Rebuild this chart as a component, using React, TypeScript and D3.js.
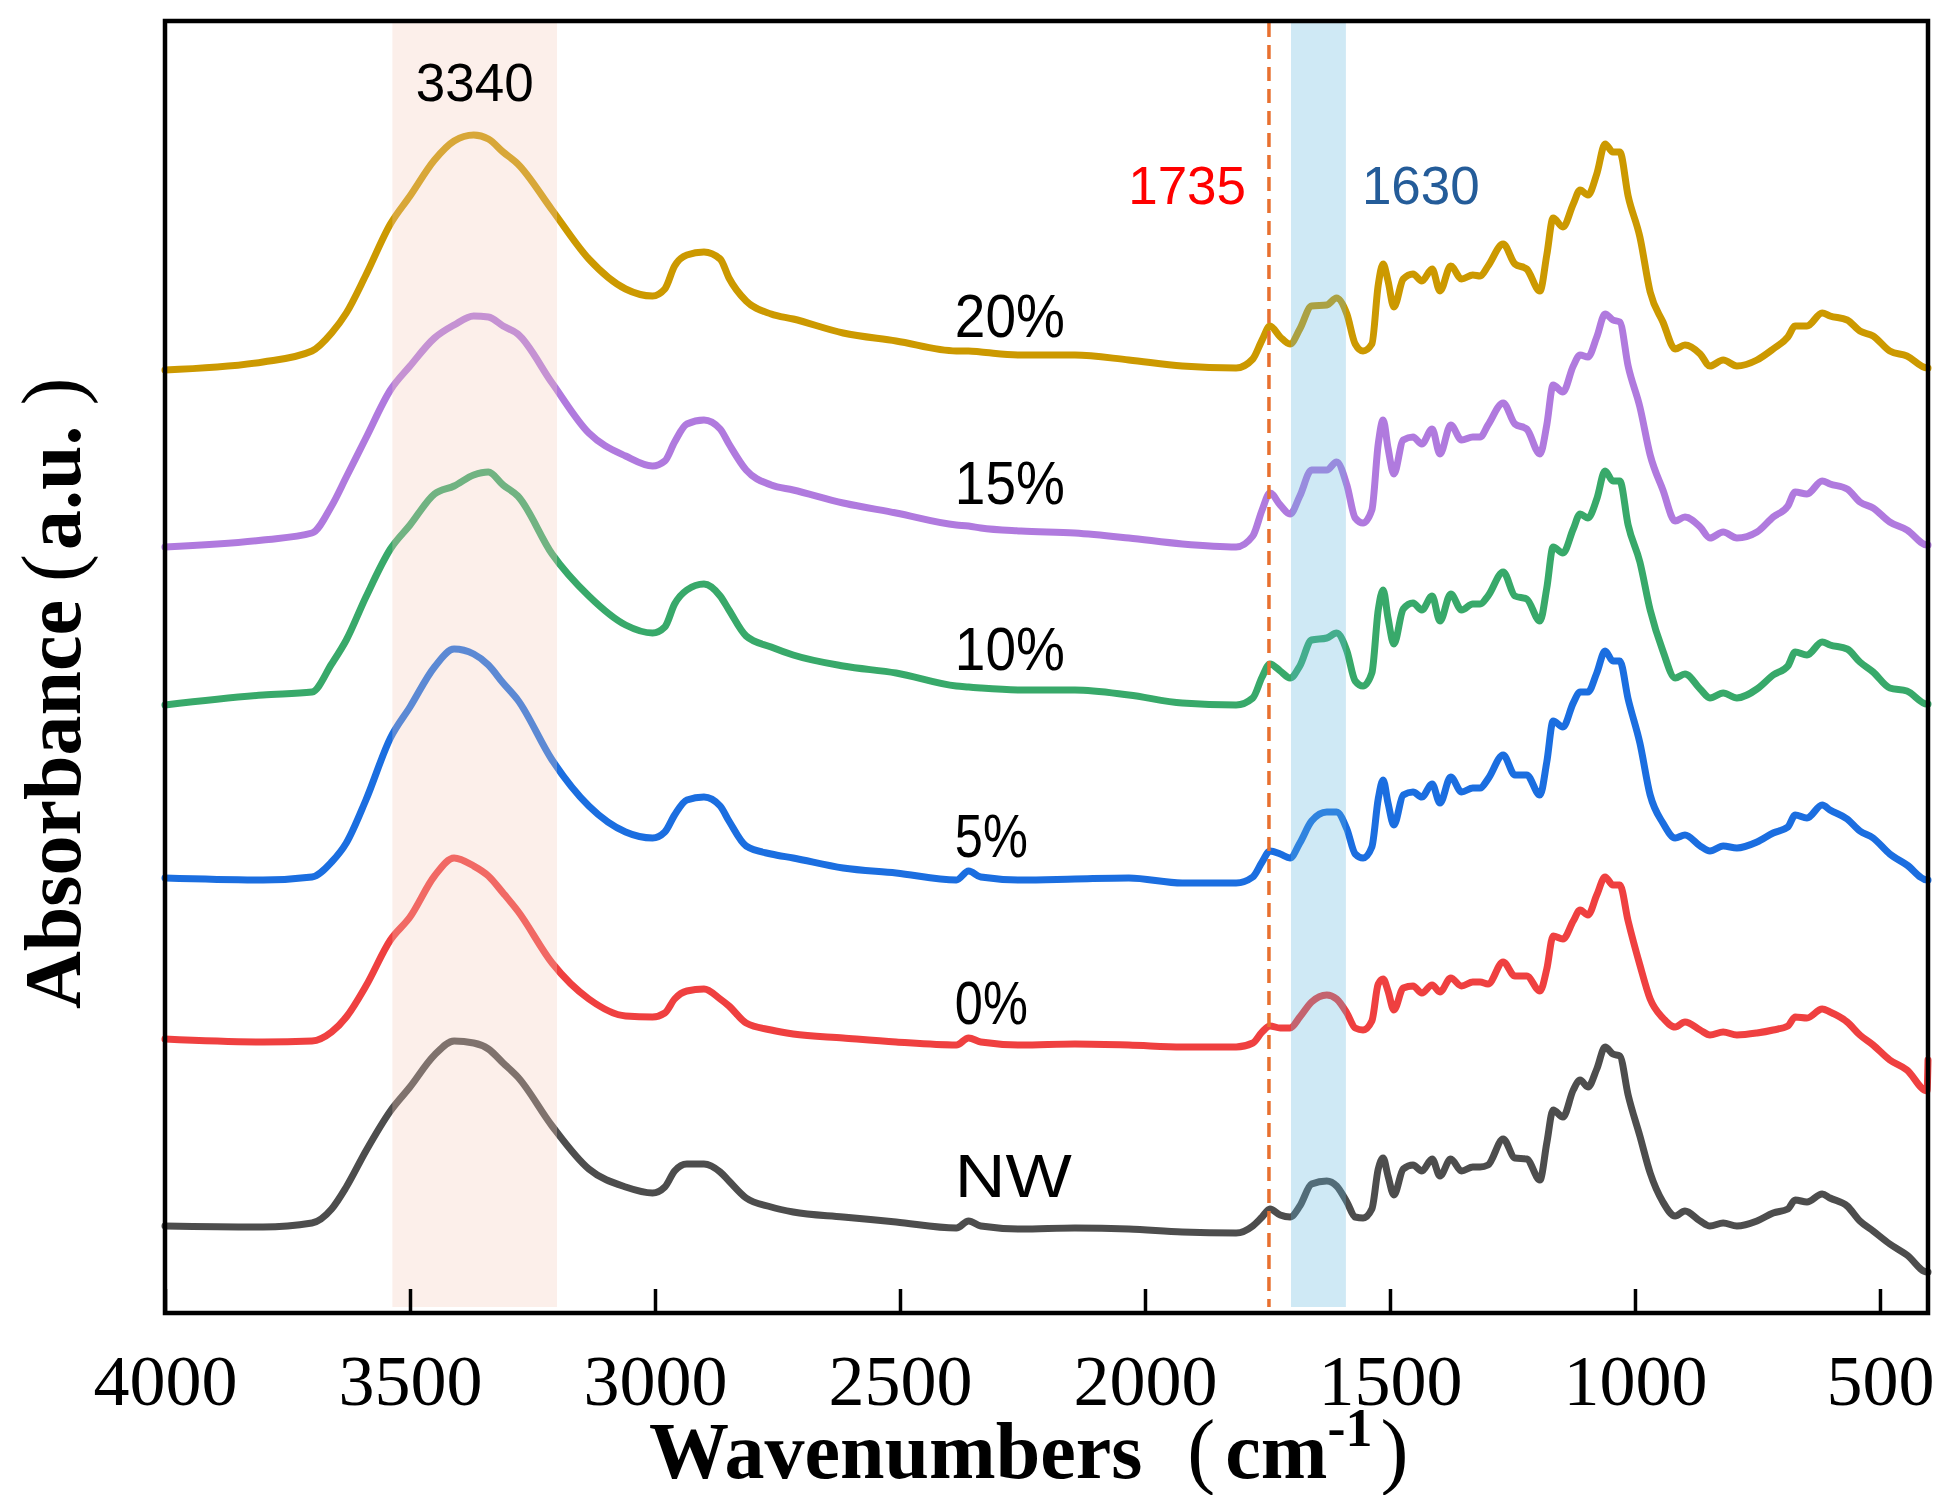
import { useEffect, useRef } from 'react';
import * as d3 from 'd3';

// wavenumber grid (cm-1), shared by all spectra
const wavenumbers = [
  4000, 3800, 3700, 3660, 3630, 3590, 3540, 3500, 3450, 3410, 3370, 3340, 3310, 3280, 3210, 3135, 3060, 3005, 2980, 2960,
  2935, 2900, 2867, 2849, 2814, 2763, 2718, 2616, 2508, 2385, 2360, 2335, 2253, 2143, 2033, 1924, 1814, 1780, 1761, 1745,
  1724, 1704, 1684, 1660, 1629, 1609, 1588, 1571, 1555, 1537, 1524, 1514, 1504, 1492, 1473, 1453, 1435, 1414, 1398, 1376,
  1354, 1331, 1316, 1300, 1269, 1245, 1221, 1194, 1180, 1167, 1147, 1126, 1112, 1096, 1078, 1061, 1045, 1031, 1014, 990,
  969, 943, 918, 898, 867, 847, 820, 792, 751, 718, 688, 673, 649, 618, 602, 567, 541, 514, 480, 445, 404, 402,
];

// absorbance (a.u., offset stacked)
const nwValues = [
  87, 86, 90, 104, 126, 162, 202, 226, 258, 272, 270, 264, 250, 236, 187, 144, 126, 120, 126, 142,
  149, 149, 141, 132, 115, 106, 101, 96, 91, 85, 92, 87, 84, 85, 84, 81, 80, 87, 96, 104,
  98, 96, 107, 129, 132, 127, 111, 96, 95, 104, 144, 155, 137, 118, 144, 148, 142, 154, 137, 154,
  142, 146, 146, 148, 174, 155, 154, 133, 170, 203, 196, 223, 233, 226, 244, 266, 259, 257, 218, 177,
  140, 111, 97, 102, 92, 87, 90, 87, 92, 100, 104, 113, 111, 119, 115, 107, 92, 82, 69, 58, 41, 41,
];
const p0Values = [
  274, 271, 272, 281, 296, 327, 373, 396, 437, 455, 447, 437, 420, 402, 350, 314, 297, 296, 300, 314,
  322, 324, 314, 307, 290, 283, 279, 275, 271, 268, 275, 271, 268, 269, 268, 266, 266, 270, 281, 287,
  285, 285, 296, 311, 318, 314, 300, 285, 283, 292, 329, 334, 322, 303, 325, 327, 320, 328, 321, 335,
  327, 331, 331, 329, 351, 337, 337, 322, 344, 377, 374, 392, 403, 398, 418, 436, 428, 428, 392, 348,
  314, 295, 286, 291, 283, 278, 281, 278, 280, 283, 287, 296, 295, 304, 301, 291, 278, 268, 253, 243, 222, 253,
];
const p5Values = [
  435, 433, 436, 451, 470, 513, 575, 606, 646, 664, 659, 648, 630, 613, 553, 507, 481, 475, 481, 498,
  513, 516, 507, 492, 467, 459, 455, 445, 440, 433, 442, 436, 433, 434, 435, 430, 430, 436, 451, 462,
  459, 455, 470, 492, 501, 501, 484, 459, 455, 466, 514, 533, 510, 488, 518, 521, 516, 529, 510, 536,
  521, 525, 525, 534, 558, 538, 538, 518, 551, 592, 586, 610, 621, 621, 640, 662, 652, 652, 614, 570,
  518, 490, 475, 478, 467, 462, 467, 465, 471, 480, 486, 498, 495, 508, 503, 494, 482, 475, 459, 448, 433, 433,
];
const p10Values = [
  608, 618, 621, 649, 673, 716, 764, 788, 819, 827, 838, 841, 828, 817, 759, 717, 688, 680, 686, 709,
  723, 729, 717, 703, 677, 666, 658, 647, 640, 627, 626, 625, 623, 623, 618, 610, 608, 615, 636, 649,
  642, 635, 647, 673, 675, 680, 662, 632, 627, 640, 703, 723, 695, 669, 704, 710, 703, 717, 692, 719,
  703, 709, 709, 717, 741, 717, 714, 692, 725, 766, 760, 784, 799, 795, 814, 842, 832, 832, 788, 751,
  703, 662, 635, 639, 624, 615, 620, 615, 624, 638, 647, 661, 658, 671, 668, 664, 651, 641, 625, 622, 609, 609,
];
const p15Values = [
  766, 773, 780, 807, 836, 875, 923, 947, 975, 988, 997, 996, 987, 979, 930, 880, 857, 847, 852, 871,
  889, 893, 884, 869, 843, 828, 823, 810, 800, 788, 787, 785, 782, 780, 775, 769, 766, 777, 803, 820,
  808, 799, 817, 843, 843, 851, 828, 795, 790, 803, 869, 893, 865, 839, 873, 876, 869, 884, 859, 888,
  873, 876, 876, 888, 910, 889, 884, 859, 888, 928, 921, 947, 958, 956, 976, 999, 993, 991, 947, 906,
  858, 823, 792, 796, 786, 775, 781, 775, 781, 796, 807, 821, 819, 832, 829, 824, 811, 805, 791, 783, 768, 768,
];
const p20Values = [
  943, 951, 962, 980, 1000, 1038, 1089, 1117, 1153, 1172, 1178, 1174, 1161, 1149, 1103, 1054, 1024, 1017, 1024, 1047,
  1058, 1061, 1054, 1035, 1012, 999, 994, 980, 972, 962, 962, 961, 958, 958, 953, 947, 945, 954, 973, 987,
  976, 969, 984, 1007, 1008, 1015, 999, 969, 962, 969, 1028, 1049, 1032, 1006, 1034, 1039, 1032, 1044, 1022, 1047,
  1034, 1038, 1037, 1047, 1069, 1049, 1044, 1022, 1058, 1095, 1086, 1109, 1123, 1118, 1139, 1169, 1161, 1161, 1117, 1076,
  1021, 991, 964, 968, 959, 947, 953, 947, 953, 964, 976, 987, 987, 1000, 997, 993, 982, 977, 962, 957, 945, 945,
];

const seriesNames = ['NW', '0%', '5%', '10%', '15%', '20%'];
const seriesValues = [nwValues, p0Values, p5Values, p10Values, p15Values, p20Values];
const seriesColors = ['#4d4d4d', '#ef4040', '#1b6ee0', '#38a96a', '#b07ade', '#cc9900'];
const labelBaselines = [1197, 1024, 857, 670, 504, 337];
const labelWidths = [117, 73, 73, 110, 110, 110];

const bands = [
  { from: 3536, to: 3200, fill: 'rgb(245,202,185)' },
  { from: 1702, to: 1590, fill: 'rgb(95,182,222)' },
];
const markerWavenumber = 1747;
const annotations = [
  { text: '3340', at: 3368, baseline: 101, color: '#000000' },
  { text: '1735', at: 1914, baseline: 204, color: '#ff0000' },
  { text: '1630', at: 1437, baseline: 204, color: '#245c99' },
];
const xTicks = [4000, 3500, 3000, 2500, 2000, 1500, 1000, 500];

const width = 1947;
const height = 1495;
const left = 165;
const right = 1928;
const top = 21;
const bottom = 1313;
const serif = "'Liberation Serif', 'Times New Roman', serif";
const sans = "'Liberation Sans', Arial, sans-serif";

const App = () => {
  const svgRef = useRef<SVGSVGElement>(null!);

  useEffect(() => {
    const svg = d3.select(svgRef.current);
    const x = d3.scaleLinear().domain([4000, 402]).range([left, right]);
    const y = d3.scaleLinear().domain([0, 1292]).range([bottom, top]);

    const line = d3
      .line<number>()
      .x((_, i) => x(wavenumbers[i]))
      .y(d => y(d))
      .curve(d3.curveMonotoneX);

    svg
      .append('g')
      .selectAll('path')
      .data(seriesValues)
      .enter()
      .append('path')
      .attr('d', d => line(d))
      .attr('fill', 'none')
      .attr('stroke', (_, i) => seriesColors[i])
      .attr('stroke-width', 7)
      .attr('stroke-linejoin', 'round')
      .attr('stroke-linecap', 'round');

    // translucent highlight bands sit over the spectra
    svg
      .append('g')
      .selectAll('rect')
      .data(bands)
      .enter()
      .append('rect')
      .attr('x', d => x(d.from))
      .attr('width', d => x(d.to) - x(d.from))
      .attr('y', top + 2)
      .attr('height', bottom - top - 8)
      .attr('fill', d => d.fill)
      .attr('opacity', 0.3);

    svg
      .append('line')
      .attr('x1', x(markerWavenumber))
      .attr('x2', x(markerWavenumber))
      .attr('y1', top + 2)
      .attr('y2', bottom - 6)
      .attr('stroke', '#e8702f')
      .attr('stroke-width', 3.5)
      .attr('stroke-dasharray', '14 8');

    svg
      .append('g')
      .selectAll('text')
      .data(annotations)
      .enter()
      .append('text')
      .attr('x', d => x(d.at))
      .attr('y', d => d.baseline)
      .attr('text-anchor', 'middle')
      .attr('font-family', sans)
      .attr('font-size', 53)
      .attr('fill', d => d.color)
      .text(d => d.text);

    svg
      .append('g')
      .selectAll('text')
      .data(seriesNames)
      .enter()
      .append('text')
      .attr('x', x(2388))
      .attr('y', (_, i) => labelBaselines[i])
      .attr('font-family', sans)
      .attr('font-size', 62)
      .attr('textLength', (_, i) => labelWidths[i])
      .attr('lengthAdjust', 'spacingAndGlyphs')
      .attr('fill', '#000')
      .text(d => d);

    const axis = d3
      .axisBottom(x)
      .tickValues(xTicks)
      .tickSizeInner(-24)
      .tickSizeOuter(0)
      .tickFormat(d => String(d));
    const gx = svg.append('g').attr('transform', `translate(0,${bottom})`).call(axis);
    gx.select('.domain').remove();
    gx.selectAll('.tick line').attr('stroke', '#000').attr('stroke-width', 3.5);
    gx.selectAll('.tick text')
      .attr('y', 92)
      .attr('dy', null)
      .attr('fill', '#000')
      .attr('font-family', serif)
      .attr('font-size', 72);

    svg
      .append('rect')
      .attr('x', left)
      .attr('y', top)
      .attr('width', right - left)
      .attr('height', bottom - top)
      .attr('fill', 'none')
      .attr('stroke', '#000')
      .attr('stroke-width', 4.5);

    const xTitle = svg
      .append('text')
      .attr('x', 649)
      .attr('y', 1478)
      .attr('font-family', serif)
      .attr('font-weight', 'bold')
      .attr('font-size', 80)
      .attr('fill', '#000');
    xTitle.append('tspan').text('Wavenumbers');
    xTitle.append('tspan').attr('dx', 45).attr('font-weight', 'normal').attr('font-size', 84).text('(');
    xTitle.append('tspan').attr('dx', 10).text('cm');
    xTitle.append('tspan').attr('font-size', 54).attr('dy', -32).text('-1');
    xTitle.append('tspan').attr('dx', 8).attr('dy', 32).attr('font-weight', 'normal').attr('font-size', 84).text(')');

    const yTitle = svg
      .append('text')
      .attr('transform', `translate(80,1009) rotate(-90)`)
      .attr('font-family', serif)
      .attr('font-weight', 'bold')
      .attr('font-size', 80)
      .attr('fill', '#000');
    yTitle.append('tspan').text('Absorbance');
    yTitle.append('tspan').attr('dx', 18).attr('font-weight', 'normal').attr('font-size', 84).text('(');
    yTitle.append('tspan').attr('dx', 4).text('a.u.');
    yTitle.append('tspan').attr('dx', 20).attr('font-weight', 'normal').attr('font-size', 84).text(')');

    return () => {
      svgRef.current.innerHTML = '';
    };
  }, []);

  return (
    <svg
      ref={svgRef}
      width={width}
      height={height}
      style={{ position: 'absolute', left: 0, top: 0, background: '#fff' }}
    ></svg>
  );
};

export default App;
